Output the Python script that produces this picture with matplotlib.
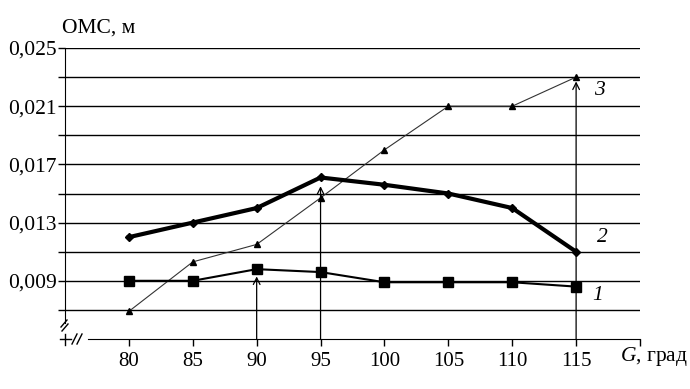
import matplotlib
matplotlib.use("Agg")
import matplotlib.pyplot as plt
from matplotlib.lines import Line2D
from matplotlib.ticker import FixedLocator, NullFormatter

plt.rcParams['font.family'] = ['Liberation Serif', 'DejaVu Serif']
plt.rcParams['mathtext.fontset'] = 'custom'
plt.rcParams['mathtext.it'] = 'Liberation Serif:italic'
plt.rcParams['mathtext.rm'] = 'Liberation Serif'

# data
G = [80, 85, 90, 95, 100, 105, 110, 115]
oms1 = [0.0090, 0.0090, 0.0098, 0.0096, 0.0089, 0.0089, 0.0089, 0.0086]
oms2 = [0.0120, 0.0130, 0.0140, 0.0161, 0.0156, 0.0150, 0.0140, 0.0110]
oms3 = [0.0069, 0.0103, 0.0115, 0.0147, 0.0180, 0.0210, 0.0210, 0.0230]

y_major = [0.009, 0.013, 0.017, 0.021, 0.025]
y_minor = [0.007, 0.011, 0.015, 0.019, 0.023]
x_ticks = [80, 85, 90, 95, 100, 105, 110, 115, 120]
x_labels = ['80', '85', '90', '95', '100', '105', '110', '115', '']

# arrows: (x, y of arrow tip)
arrows = [(90, 0.0093), (95, 0.0155), (115, 0.0227)]
curve_labels = [('1', 116.3, 0.0080), ('2', 116.6, 0.0120), ('3', 116.4, 0.0221)]

W, H = 690, 389
fig = plt.figure(figsize=(W / 100, H / 100), dpi=100)
ax = fig.add_axes([65 / W, 1 - 339 / H, 575 / W, 291 / H])

ax.set_xlim(75, 120)
ax.set_ylim(0.005, 0.025)

ax.yaxis.set_major_locator(FixedLocator(y_major))
ax.yaxis.set_minor_locator(FixedLocator(y_minor))
ax.set_yticklabels([f'{v:.3f}'.replace('.', ',') for v in y_major])
ax.yaxis.set_minor_formatter(NullFormatter())
ax.set_xticks(x_ticks)
ax.set_xticklabels(x_labels)
ax.tick_params(axis='y', which='both', length=5, width=1, pad=1, labelsize=15.5)
ax.tick_params(axis='x', length=5, width=1, pad=4, labelsize=15)
ax.grid(axis='y', which='both', color='black', lw=1)
ax.set_axisbelow(True)

for s in ['top', 'right']:
    ax.spines[s].set_visible(False)
ax.spines['left'].set_bounds(0.0061, 0.025)
ax.spines['bottom'].set_bounds(76.8, 120)

ax.plot(G, oms3, color='#333333', lw=0.8, marker='^', ms=5, mfc='black', mec='black', zorder=3)
ax.plot(G, oms2, color='black', lw=3, marker='D', ms=4, zorder=4)
ax.plot(G, oms1, color='black', lw=1.5, marker='s', ms=7.5, zorder=5)

for x, y in arrows:
    ax.annotate('', xy=(x, y), xytext=(x, 0.005),
                arrowprops=dict(arrowstyle='->', lw=0.9, color='black',
                                shrinkA=0, shrinkB=0, mutation_scale=12),
                annotation_clip=False, zorder=2)

for txt, x, y in curve_labels:
    ax.text(x, y, txt, fontsize=15.5, style='italic', ha='left', va='center')

fig.text(62 / W, 1 - 28 / H, 'ОМС, м', fontsize=15.5, ha='left', va='center')
fig.text(620 / W, 1 - 356 / H, '$\\mathit{G}$, град', fontsize=15.5, ha='left', va='center')


# axis break marks, in pixel coords
def seg(x0, y0, x1, y1):
    fig.add_artist(Line2D([x0 / W, x1 / W], [1 - y0 / H, 1 - y1 / H],
                          color='black', lw=1, transform=fig.transFigure))


seg(61, 327, 67, 320)
seg(62, 331, 68, 324)
seg(60, 339, 71, 339)
seg(65, 334, 65, 345)
seg(72, 344, 77, 334)
seg(77, 344, 82, 334)

fig.savefig('out.png', dpi=100)
